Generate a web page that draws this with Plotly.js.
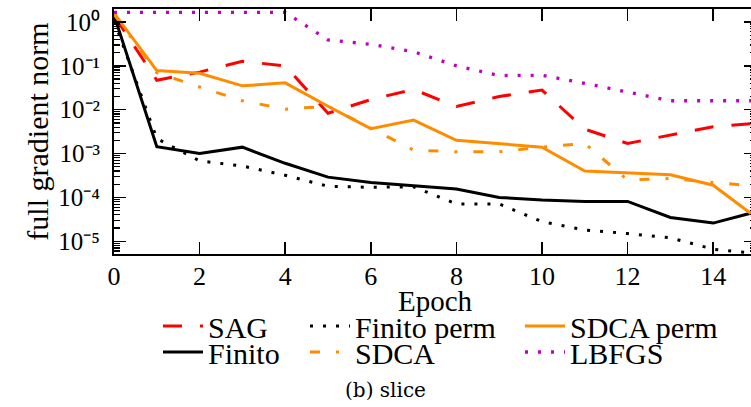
<!DOCTYPE html>
<html>
<head>
<meta charset="utf-8">
<script src="https://cdn.plot.ly/plotly-3.0.1.min.js"></script>
<style>
html,body{margin:0;padding:0;overflow:hidden;background:#fff;}
#chart{width:766px;height:407px;}
</style>
</head>
<body>
<div id="chart"></div>
<script>
// ---- data ----
const epochs = [0,1,2,3,4,5,6,7,8,9,10,11,12,13,14,15];
const sag        = [1.4, 0.047, 0.072, 0.127, 0.10, 0.0083, 0.017, 0.029, 0.0118, 0.020, 0.028, 0.0036, 0.0017, 0.0026, 0.0041, 0.0049];
const finito     = [1.45, 1.44e-3, 1.0e-3, 1.4e-3, 6.0e-4, 2.9e-4, 2.2e-4, 1.85e-4, 1.55e-4, 1.0e-4, 8.7e-5, 8.1e-5, 8.1e-5, 3.5e-5, 2.6e-5, 4.7e-5];
const finitoPerm = [1.1, 2.2e-3, 6.8e-4, 5.2e-4, 3.2e-4, 1.8e-4, 1.7e-4, 1.75e-4, 7.1e-5, 7.1e-5, 2.8e-5, 1.8e-5, 1.5e-5, 1.2e-5, 6.6e-6, 5.3e-6];
const sdca       = [1.5, 0.07, 0.033, 0.016, 0.0103, 0.012, 3.8e-3, 1.2e-3, 1.1e-3, 1.1e-3, 1.4e-3, 1.7e-3, 2.5e-4, 2.7e-4, 2.2e-4, 1.8e-4];
const sdcaPerm   = [1.6, 0.078, 0.068, 0.035, 0.041, 0.012, 3.7e-3, 5.8e-3, 2.0e-3, 1.7e-3, 1.4e-3, 4.0e-4, 3.6e-4, 3.3e-4, 1.9e-4, 3.5e-5];
const lbfgs      = [1.66, 1.66, 1.66, 1.66, 1.66, 0.39, 0.31, 0.21, 0.10, 0.06, 0.061, 0.04, 0.025, 0.016, 0.016, 0.016];

const seriesNames = ['SAG', 'Finito', 'Finito perm', 'SDCA', 'SDCA perm', 'LBFGS'];
const xTickVals = [0,2,4,6,8,10,12,14];
const yTickVals = [1, 0.1, 0.01, 0.001, 0.0001, 0.00001];
const yTickText = ['10\u2070','10\u207B\u00B9','10\u207B\u00B2','10\u207B\u00B3','10\u207B\u2074','10\u207B\u2075'];
const xTitle = 'Epoch';
const yTitle = 'full gradient norm';
const caption = '(b) slice';

// ---- styling ----
const serif = 'Liberation Serif';
const values = [sag, finito, finitoPerm, sdca, sdcaPerm, lbfgs];
const styles = [
  {color:'#ff0000', dash:'19px,18px', width:3},
  {color:'#000000', dash:'solid', width:3},
  {color:'#000000', dash:'3px,10px', width:3},
  {color:'#ff8c00', dash:'10px,16px,3px,16px', width:3},
  {color:'#ff8c00', dash:'solid', width:3},
  {color:'#c000c0', dash:'3px,10px', width:3.3}
];
// legend placement (pixel: text left, text centre y)
const legendIds = ['legend','legend2','legend3','legend4','legend5','legend6'];
const legendPos = [[208,326],[208,352],[355,326],[355,352],[570,326],[570,352]];

const L = 114, T = 9, PW = 642, PH = 245;

const traces = values.map((v, i) => ({
  type:'scatter', mode:'lines', x: epochs, y: v, name: seriesNames[i],
  line:{color:styles[i].color, dash:styles[i].dash, width:styles[i].width},
  legend: legendIds[i]
}));

const minorVals = [];
for (let e = -6; e <= 0; e++) for (let m = 2; m <= 9; m++) minorVals.push(m * Math.pow(10, e));

const layout = {
  width: 766, height: 407,
  margin:{l:L, r:766-L-PW, t:T, b:407-T-PH},
  paper_bgcolor:'#fff', plot_bgcolor:'#fff',
  font:{family:serif, color:'#000', size:24},
  title:{text:caption, font:{family:'DejaVu Serif', size:20, color:'#000'},
         xref:'container', yref:'container', x:385.5/766, y:(407-390)/407, xanchor:'center', yanchor:'middle'},
  xaxis:{
    range:[0,15], tickmode:'array', tickvals:xTickVals,
    ticks:'inside', ticklen:12, tickwidth:1.5, tickcolor:'#000',
    showline:true, linewidth:2, linecolor:'#000', mirror:'allticks',
    showgrid:false, zeroline:false,
    tickfont:{family:serif, size:26, color:'#000'}, ticklabelstandoff:-2
  },
  yaxis:{
    type:'log', range:[-5.29, 0.296], tickmode:'array', tickvals:yTickVals, ticktext:yTickText,
    ticks:'inside', ticklen:12, tickwidth:1.5, tickcolor:'#000',
    minor:{tickmode:'array', tickvals:minorVals, ticks:'inside', ticklen:6, tickwidth:1.2, tickcolor:'#000', showgrid:false},
    showline:true, linewidth:2, linecolor:'#000', mirror:'allticks',
    showgrid:false, zeroline:false,
    tickfont:{family:serif, size:25, color:'#000'}, ticklabelstandoff:7,
    title:{text:yTitle, font:{family:serif, size:30, color:'#000'}, standoff:1}
  },
  annotations:[{
    text:xTitle, xref:'paper', yref:'paper', x:(435.8 - L)/PW, y:(T + PH - 300.8)/PH,
    xanchor:'center', yanchor:'middle', showarrow:false,
    font:{family:serif, size:29, color:'#000'}
  }],
  showlegend:true
};
legendIds.forEach((id, i) => {
  const [tx, ty] = legendPos[i];
  layout[id] = {
    x:(tx - 50 - L)/PW, y:(T + PH - ty)/PH, xanchor:'left', yanchor:'middle',
    xref:'paper', yref:'paper', orientation:'v', itemwidth:40,
    bgcolor:'rgba(0,0,0,0)', borderwidth:0,
    font:{family:serif, size:30, color:'#000'}
  };
});

Plotly.newPlot('chart', traces, layout, {displayModeBar:false, staticPlot:true});
</script>
</body>
</html>
